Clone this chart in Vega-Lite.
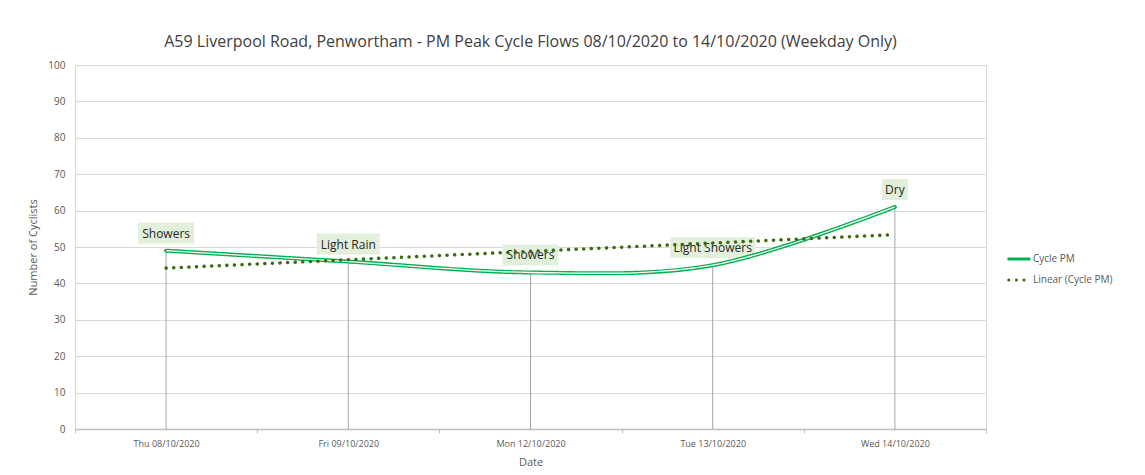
{
  "$schema": "https://vega.github.io/schema/vega-lite/v6.json",
  "autosize": "none",
  "width": 911,
  "height": 364,
  "padding": {"left": 75, "top": 65, "right": 159, "bottom": 46},
  "background": "white",
  "config": {
    "font": "Open Sans",
    "view": {"stroke": "#d9d9d9", "strokeWidth": 1}
  },
  "title": {
    "text": "A59 Liverpool Road, Penwortham - PM Peak Cycle Flows 08/10/2020 to 14/10/2020 (Weekday Only)",
    "font": "Open Sans",
    "fontSize": 16,
    "fontWeight": "normal",
    "color": "#404040",
    "anchor": "middle",
    "offset": 10
  },
  "data": {
    "values": [
      {"date": "Thu 08/10/2020", "cycles": 49, "trend": 44.2, "weather": "Showers"},
      {"date": "Fri 09/10/2020", "cycles": 46, "trend": 46.5, "weather": "Light Rain"},
      {"date": "Mon 12/10/2020", "cycles": 43, "trend": 48.8, "weather": "Showers"},
      {"date": "Tue 13/10/2020", "cycles": 45, "trend": 51.1, "weather": "Light Showers"},
      {"date": "Wed 14/10/2020", "cycles": 61, "trend": 53.4, "weather": "Dry"}
    ]
  },
  "encoding": {
    "x": {
      "field": "date",
      "type": "ordinal",
      "sort": null,
      "scale": {"type": "band", "paddingInner": 0, "paddingOuter": 0},
      "axis": {
        "title": "Date",
        "titleFont": "Open Sans",
        "titleFontSize": 11,
        "titleFontWeight": "normal",
        "titleColor": "#595959",
        "titlePadding": 8,
        "labelAngle": 0,
        "labelFont": "Open Sans",
        "labelFontSize": 9,
        "labelColor": "#595959",
        "labelPadding": 6,
        "domainColor": "#bfbfbf",
        "domainWidth": 1.5,
        "tickColor": "#bfbfbf",
        "tickBand": "extent",
        "tickSize": 4,
        "grid": false
      }
    },
    "y": {
      "field": "cycles",
      "type": "quantitative",
      "scale": {"domain": [0, 100], "nice": false, "zero": true},
      "axis": {
        "title": "Number of Cyclists",
        "titleFont": "Open Sans",
        "titleFontSize": 11,
        "titleFontWeight": "normal",
        "titleColor": "#595959",
        "titlePadding": 9,
        "values": [0, 10, 20, 30, 40, 50, 60, 70, 80, 90, 100],
        "tickCount": 11,
        "labelFont": "Open Sans",
        "labelFontSize": 10,
        "labelColor": "#595959",
        "labelPadding": 10,
        "labelOverlap": false,
        "domain": false,
        "ticks": false,
        "gridColor": "#d9d9d9",
        "gridWidth": 1
      }
    }
  },
  "layer": [
    {
      "mark": {"type": "rule", "color": "#a6a6a6", "strokeWidth": 1},
      "encoding": {"y2": {"datum": 0}}
    },
    {
      "transform": [{"filter": "datum.weather == 'Showers'"}],
      "mark": {"type": "bar", "color": "#e2efda", "width": 56, "yOffset": -28, "y2Offset": -7},
      "encoding": {"y2": {"field": "cycles"}}
    },
    {
      "transform": [{"filter": "datum.weather == 'Light Rain'"}],
      "mark": {"type": "bar", "color": "#e2efda", "width": 63, "yOffset": -28, "y2Offset": -7},
      "encoding": {"y2": {"field": "cycles"}}
    },
    {
      "transform": [{"filter": "datum.weather == 'Light Showers'"}],
      "mark": {"type": "bar", "color": "#e2efda", "width": 85, "yOffset": -28, "y2Offset": -7},
      "encoding": {"y2": {"field": "cycles"}}
    },
    {
      "transform": [{"filter": "datum.weather == 'Dry'"}],
      "mark": {"type": "bar", "color": "#e2efda", "width": 26, "yOffset": -28, "y2Offset": -7},
      "encoding": {"y2": {"field": "cycles"}}
    },
    {
      "mark": {"type": "text", "font": "Open Sans", "fontSize": 12, "color": "#262626", "baseline": "middle", "align": "center", "dy": -17},
      "encoding": {"text": {"field": "weather"}}
    },
    {
      "mark": {"type": "line", "interpolate": "cardinal", "strokeWidth": 4, "strokeCap": "round"},
      "encoding": {
        "color": {
          "datum": "Cycle PM",
          "type": "nominal",
          "scale": {"domain": ["Cycle PM", "Linear (Cycle PM)"], "range": ["#00b050", "#3a6b10"]},
          "legend": {
            "title": null,
            "orient": "none",
            "legendX": 932,
            "legendY": 182,
            "symbolType": "stroke",
            "symbolSize": 420,
            "symbolStrokeWidth": 3,
            "labelFont": "Open Sans",
            "labelFontSize": 10,
            "labelColor": "#595959",
            "labelOffset": 2,
            "rowPadding": 3,
            "encode": {"symbols": {"update": {"strokeCap": {"value": "round"}}}}
          }
        },
        "strokeDash": {
          "datum": "Cycle PM",
          "type": "nominal",
          "scale": {"domain": ["Cycle PM", "Linear (Cycle PM)"], "range": [[1, 0], [0.1, 7.5]]},
          "legend": null
        }
      }
    },
    {
      "mark": {"type": "line", "interpolate": "cardinal", "strokeWidth": 1.3, "color": "white"},
      "encoding": {}
    },
    {
      "mark": {"type": "line", "strokeWidth": 3.5, "strokeCap": "round"},
      "encoding": {
        "y": {"field": "trend", "type": "quantitative"},
        "color": {"datum": "Linear (Cycle PM)", "type": "nominal"},
        "strokeDash": {"datum": "Linear (Cycle PM)", "type": "nominal"}
      }
    }
  ]
}
